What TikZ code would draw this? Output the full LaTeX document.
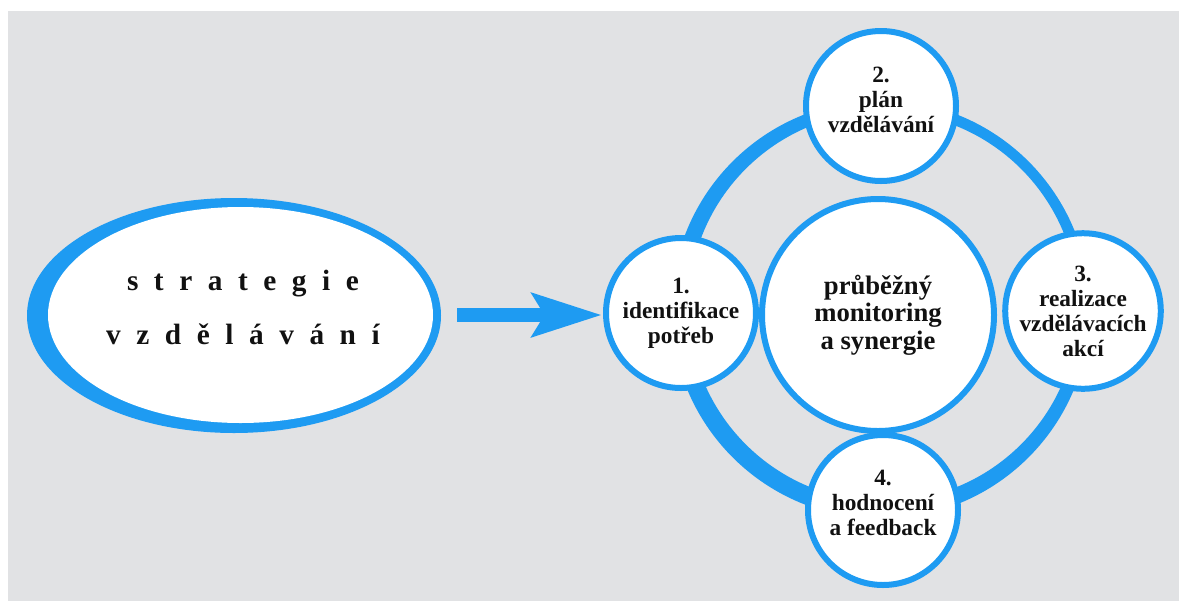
\documentclass[tikz,border=0pt]{standalone}
\usepackage{fontspec}
\setmainfont{Liberation Serif}
\usetikzlibrary{arrows.meta}
\definecolor{bg}{HTML}{E1E2E4}
\definecolor{bl}{HTML}{1E9BF2}
\definecolor{ink}{HTML}{111111}
\newcommand{\gapL}{\hspace{0.53em}}
\newcommand{\padDown}[1]{\rule[-#1]{0pt}{#1}}
\tikzset{
  stage/.style={circle, draw=bl, line width=4.5pt, fill=white, minimum size=112.5pt,
    inner sep=0pt, align=center, text=ink, font=\bfseries\fontsize{17.5}{18.75}\selectfont},
  hub/.style={stage, minimum size=174pt, font=\bfseries\fontsize{20}{20.6}\selectfont},
}
\begin{document}
\begin{tikzpicture}[x=0.75pt,y=-0.75pt]
\useasboundingbox (0,0) rectangle (1179,601);
\fill[white] (0,0) rectangle (1179,601);
\fill[bg] (8,11) rectangle (1179,601);
% left ellipse
\fill[bl] (234,315.5) ellipse [x radius=207, y radius=117.5];
\fill[white] (240.5,315) ellipse [x radius=192.5, y radius=108];
\node[align=center, text=ink, font=\bfseries\fontsize{22}{40.5}\selectfont] (strat) at (243,307)
  {s\gapL t\gapL r\gapL a\gapL t\gapL e\gapL g\gapL i\gapL e\\
   v\gapL z\gapL d\gapL ě\gapL l\gapL á\gapL v\gapL á\gapL n\gapL í};
% ring (slightly uneven thickness)
\fill[bl, even odd rule] (880.6,309.4) circle [radius=209.25] (883.4,306.6) circle [radius=194.75];
% center
\node[hub] (hub) at (878,315) {průběžný\\monitoring\\a synergie};
% stages
\node[stage] (n1) at (681,313) {1.\\identifikace\\potřeb};
\node[stage] (n2) at (881,106) {2.\\plán\\vzdělávání\padDown{9pt}};
\node[stage] (n3) at (1083,311) {3.\\realizace\\vzdělávacích\\akcí};
\node[stage] (n4) at (883,510) {4.\\hodnocení\\a feedback\padDown{10.5pt}};
% arrow
\coordinate (astart) at (457,315);
\coordinate (atip) at (602,315);
\draw[bl, line width=10.5pt, -{Stealth[length=52pt,width=32pt,inset=9pt]}] (astart) -- (atip);
\end{tikzpicture}
\end{document}
